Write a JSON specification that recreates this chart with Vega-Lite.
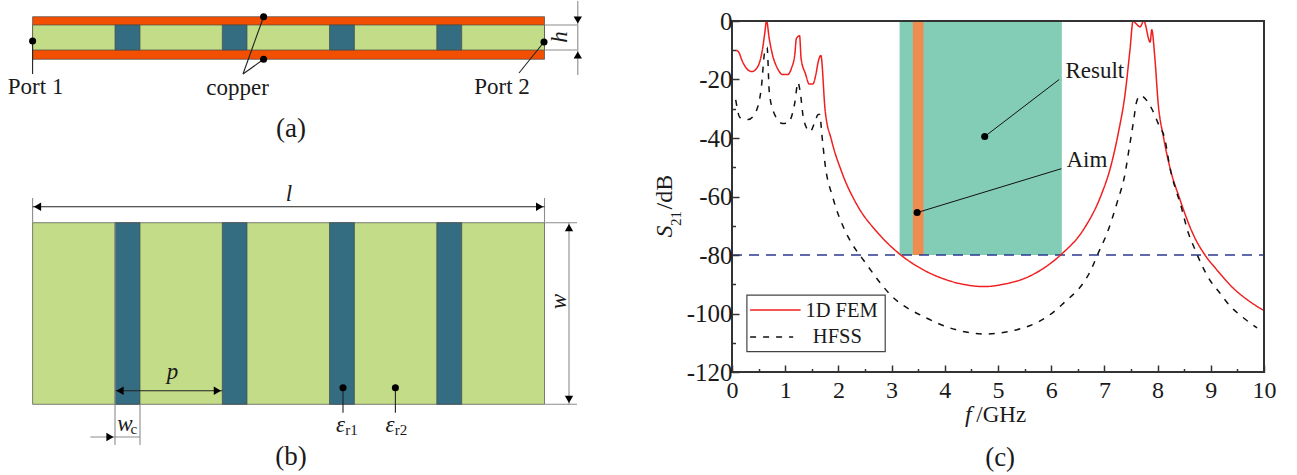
{
"$schema":"https://vega.github.io/schema/vega-lite/v6.json",
"padding":0,
"background":"white",
"bounds":"flush",
"spacing":132,
"config":{"font":"Liberation Serif","text":{"font":"Liberation Serif","color":"#1a1a1a"},"concat":{"spacing":132}},
"datasets":{
"rects":[
{"part":"copper","x":32.6,"x2":544.5,"y":16.7,"y2":59.3},
{"part":"substrate","x":32.6,"x2":544.5,"y":25,"y2":50},
{"part":"column","x":115,"x2":140,"y":25,"y2":50},
{"part":"column","x":222.3,"x2":247,"y":25,"y2":50},
{"part":"column","x":329.5,"x2":354.4,"y":25,"y2":50},
{"part":"column","x":436.8,"x2":461.7,"y":25,"y2":50},
{"part":"substrate","x":32.6,"x2":544.5,"y":222.7,"y2":404.3},
{"part":"column","x":115,"x2":140,"y":222.7,"y2":404.3},
{"part":"column","x":222.3,"x2":247,"y":222.7,"y2":404.3},
{"part":"column","x":329.5,"x2":354.4,"y":222.7,"y2":404.3},
{"part":"column","x":436.8,"x2":461.7,"y":222.7,"y2":404.3}
],
"lines":[
{"part":"leader","x":32.6,"x2":32.6,"y":41,"y2":74},
{"part":"leader","x":544,"x2":519,"y":42,"y2":73},
{"part":"leader","x":263.6,"x2":243,"y":16.7,"y2":74},
{"part":"leader","x":263.6,"x2":243,"y":59.3,"y2":74},
{"part":"guide","x":544.5,"x2":577,"y":25,"y2":25},
{"part":"guide","x":544.5,"x2":577,"y":50,"y2":50},
{"part":"guide","x":577.8,"x2":577.8,"y":1,"y2":75},
{"part":"guide","x":32.6,"x2":32.6,"y":198,"y2":222.7},
{"part":"guide","x":544.5,"x2":544.5,"y":198,"y2":222.7},
{"part":"leader","x":32.6,"x2":544.5,"y":206.7,"y2":206.7},
{"part":"guide","x":544.5,"x2":577,"y":222.7,"y2":222.7},
{"part":"guide","x":544.5,"x2":577,"y":404.3,"y2":404.3},
{"part":"guide","x":569,"x2":569,"y":222.7,"y2":404.3},
{"part":"leader","x":115,"x2":222.3,"y":390.7,"y2":390.7},
{"part":"guide","x":115,"x2":115,"y":222.7,"y2":445},
{"part":"guide","x":140,"x2":140,"y":404.3,"y2":445},
{"part":"guide","x":90.4,"x2":140,"y":437,"y2":437},
{"part":"leader","x":343,"x2":343,"y":387.7,"y2":412.7},
{"part":"leader","x":395.4,"x2":395.4,"y":387.7,"y2":412.7}
],
"dots":[
{"x":32.6,"y":41},{"x":544,"y":42},{"x":263.6,"y":16.7},{"x":263.6,"y":59.3},{"x":343,"y":387.7},{"x":395.4,"y":387.7}
],
"arrows":[
{"dir":"down","x":577.8,"y":20},{"dir":"up","x":577.8,"y":55},
{"dir":"left","x":37.5,"y":206.7},{"dir":"right","x":539.6,"y":206.7},
{"dir":"down","x":569,"y":399.4},{"dir":"up","x":569,"y":227.6},
{"dir":"left","x":120,"y":390.7},{"dir":"right","x":217.4,"y":390.7},
{"dir":"right","x":110,"y":437}
],
"roman":[
{"label":"Port 1","x":35.6,"y":87},{"label":"copper","x":237.5,"y":88},{"label":"Port 2","x":502,"y":87}
],
"captions":[
{"label":"(a)","x":291,"y":129},{"label":"(b)","x":291,"y":456.7}
],
"italic":[
{"label":"l","x":289,"y":194,"angle":0},{"label":"p","x":172.4,"y":371.7,"angle":0},
{"label":"h","x":560,"y":37,"angle":270},{"label":"w","x":559.4,"y":301.7,"angle":270},
{"label":"w","x":125,"y":424,"angle":0},{"label":"ε","x":340.5,"y":425,"angle":0},{"label":"ε","x":390,"y":425,"angle":0}
],
"subs":[
{"label":"c","x":133.8,"y":429},{"label":"r1","x":351.5,"y":430},{"label":"r2","x":401,"y":430}
],
"spectrum":[
{"series":"1D FEM","f":0.07,"db":-10},{"series":"1D FEM","f":0.12,"db":-10.5},{"series":"1D FEM","f":0.2,"db":-14},{"series":"1D FEM","f":0.3,"db":-16.7},{"series":"1D FEM","f":0.37,"db":-17.3},{"series":"1D FEM","f":0.45,"db":-16.5},{"series":"1D FEM","f":0.52,"db":-14},{"series":"1D FEM","f":0.57,"db":-10},{"series":"1D FEM","f":0.61,"db":-5},{"series":"1D FEM","f":0.65,"db":0},{"series":"1D FEM","f":0.7,"db":-6},{"series":"1D FEM","f":0.76,"db":-11.5},{"series":"1D FEM","f":0.85,"db":-16},{"series":"1D FEM","f":0.95,"db":-18.3},{"series":"1D FEM","f":1.05,"db":-18.3},{"series":"1D FEM","f":1.12,"db":-16},{"series":"1D FEM","f":1.18,"db":-11.5},{"series":"1D FEM","f":1.21,"db":-6},{"series":"1D FEM","f":1.27,"db":-5},{"series":"1D FEM","f":1.3,"db":-13},{"series":"1D FEM","f":1.38,"db":-18},{"series":"1D FEM","f":1.45,"db":-21.5},{"series":"1D FEM","f":1.52,"db":-21.5},{"series":"1D FEM","f":1.58,"db":-18},{"series":"1D FEM","f":1.62,"db":-14},{"series":"1D FEM","f":1.67,"db":-11.8},{"series":"1D FEM","f":1.75,"db":-30.4},{"series":"1D FEM","f":1.87,"db":-40.7},{"series":"1D FEM","f":2.06,"db":-51.5},{"series":"1D FEM","f":2.37,"db":-63.5},{"series":"1D FEM","f":2.72,"db":-72},{"series":"1D FEM","f":3.16,"db":-79.8},{"series":"1D FEM","f":3.57,"db":-84.8},{"series":"1D FEM","f":4,"db":-88.3},{"series":"1D FEM","f":4.4,"db":-90.2},{"series":"1D FEM","f":4.75,"db":-90.8},{"series":"1D FEM","f":5.1,"db":-90},{"series":"1D FEM","f":5.5,"db":-88},{"series":"1D FEM","f":5.9,"db":-84},{"series":"1D FEM","f":6.2,"db":-79.6},{"series":"1D FEM","f":6.6,"db":-71.5},{"series":"1D FEM","f":6.95,"db":-59},{"series":"1D FEM","f":7.1,"db":-51},{"series":"1D FEM","f":7.26,"db":-38.4},{"series":"1D FEM","f":7.39,"db":-24.8},{"series":"1D FEM","f":7.48,"db":-10},{"series":"1D FEM","f":7.54,"db":0},{"series":"1D FEM","f":7.6,"db":-1},{"series":"1D FEM","f":7.67,"db":-2},{"series":"1D FEM","f":7.74,"db":0},{"series":"1D FEM","f":7.86,"db":-7.2},{"series":"1D FEM","f":7.89,"db":-3},{"series":"1D FEM","f":7.95,"db":-13},{"series":"1D FEM","f":8.01,"db":-28},{"series":"1D FEM","f":8.11,"db":-39.6},{"series":"1D FEM","f":8.23,"db":-50},{"series":"1D FEM","f":8.42,"db":-61},{"series":"1D FEM","f":8.67,"db":-73},{"series":"1D FEM","f":8.89,"db":-80},{"series":"1D FEM","f":9.11,"db":-85},{"series":"1D FEM","f":9.42,"db":-91.3},{"series":"1D FEM","f":9.74,"db":-96},{"series":"1D FEM","f":10,"db":-99},
{"series":"HFSS","f":0.07,"db":-27},{"series":"HFSS","f":0.15,"db":-33},{"series":"HFSS","f":0.3,"db":-33.7},{"series":"HFSS","f":0.45,"db":-31},{"series":"HFSS","f":0.55,"db":-23},{"series":"HFSS","f":0.62,"db":-10},{"series":"HFSS","f":0.66,"db":-9},{"series":"HFSS","f":0.7,"db":-24},{"series":"HFSS","f":0.78,"db":-31},{"series":"HFSS","f":0.95,"db":-35},{"series":"HFSS","f":1.05,"db":-34.8},{"series":"HFSS","f":1.18,"db":-28},{"series":"HFSS","f":1.24,"db":-21},{"series":"HFSS","f":1.28,"db":-24},{"series":"HFSS","f":1.35,"db":-34},{"series":"HFSS","f":1.47,"db":-37.8},{"series":"HFSS","f":1.56,"db":-34.4},{"series":"HFSS","f":1.62,"db":-32},{"series":"HFSS","f":1.65,"db":-32},{"series":"HFSS","f":1.69,"db":-39},{"series":"HFSS","f":1.75,"db":-49},{"series":"HFSS","f":1.9,"db":-60.6},{"series":"HFSS","f":2.12,"db":-71.5},{"series":"HFSS","f":2.25,"db":-76},{"series":"HFSS","f":2.47,"db":-81.7},{"series":"HFSS","f":3,"db":-94},{"series":"HFSS","f":3.65,"db":-101.5},{"series":"HFSS","f":4.2,"db":-105.5},{"series":"HFSS","f":4.75,"db":-107},{"series":"HFSS","f":5.62,"db":-104},{"series":"HFSS","f":6.2,"db":-97},{"series":"HFSS","f":6.76,"db":-84.6},{"series":"HFSS","f":6.88,"db":-79.5},{"series":"HFSS","f":7.04,"db":-73},{"series":"HFSS","f":7.24,"db":-62},{"series":"HFSS","f":7.39,"db":-52},{"series":"HFSS","f":7.47,"db":-43},{"series":"HFSS","f":7.55,"db":-34},{"series":"HFSS","f":7.6,"db":-28},{"series":"HFSS","f":7.67,"db":-25.5},{"series":"HFSS","f":7.89,"db":-30},{"series":"HFSS","f":8.01,"db":-35},{"series":"HFSS","f":8.14,"db":-40.7},{"series":"HFSS","f":8.23,"db":-50},{"series":"HFSS","f":8.33,"db":-57},{"series":"HFSS","f":8.42,"db":-62},{"series":"HFSS","f":8.58,"db":-72.6},{"series":"HFSS","f":8.7,"db":-78},{"series":"HFSS","f":8.83,"db":-83.4},{"series":"HFSS","f":8.98,"db":-88.5},{"series":"HFSS","f":9.17,"db":-93},{"series":"HFSS","f":9.36,"db":-97.4},{"series":"HFSS","f":9.58,"db":-101},{"series":"HFSS","f":9.87,"db":-104.9}
],
"bands":[
{"part":"Result","f":3.15,"f2":6.2,"db":0,"db2":-80},
{"part":"Aim","f":3.4,"f2":3.6,"db":0,"db2":-80}
],
"threshold":[{"f":0,"f2":10,"db":-80,"db2":-80}],
"frame":[{"f":0,"f2":10,"db":-120,"db2":0}],
"leaders":[
{"f":4.75,"f2":6.15,"db":-39.5,"db2":-20},
{"f":3.48,"f2":6.19,"db":-65.5,"db2":-50.5}
],
"markers":[{"f":4.75,"db":-39.5},{"f":3.48,"db":-65.5}],
"legendbox":[{"f":0.28,"f2":2.88,"db":-93.7,"db2":-113}],
"legendlines":[
{"series":"1D FEM","f":0.34,"f2":1.29,"db":-98.8,"db2":-98.8},
{"series":"HFSS","f":0.34,"f2":1.15,"db":-108,"db2":-108}
],
"notes":[
{"label":"Result","f":6.82,"db":-17},
{"label":"Aim","f":6.67,"db":-47.5},
{"label":"/GHz","f":5.06,"db":-134.7}
],
"legendText":[
{"label":"1D FEM","f":2.06,"db":-99},
{"label":"HFSS","f":1.98,"db":-108}
],
"captionC":[{"label":"(c)","f":5.04,"db":-149.4}],
"chartItalic":[{"label":"f","f":4.44,"db":-134.7,"angle":0},{"label":"S","f":-1.26,"db":-72,"angle":270}],
"yTitleRoman":[{"label":"/dB","f":-1.26,"db":-58.5}],
"yTitleSub":[{"label":"21","f":-1.06,"db":-67.5}]
},
"hconcat":[
{
"width":600,"height":454,
"view":{"stroke":null},
"encoding":{
"x":{"field":"x","type":"quantitative","axis":null,"scale":{"domain":[0,600],"nice":false,"zero":false}},
"y":{"field":"y","type":"quantitative","axis":null,"scale":{"domain":[475,21],"nice":false,"zero":false}}
},
"layer":[
{"data":{"name":"rects"},"mark":{"type":"rect","stroke":"#4a4a4a","strokeWidth":0.7},
"encoding":{"x2":{"field":"x2"},"y2":{"field":"y2"},
"fill":{"field":"part","type":"nominal","legend":null,"scale":{"domain":["copper","substrate","column","Result","Aim"],"range":["#F25000","#C3DC87","#346C82","#83CDB7","#EF8C50"]}}}},
{"data":{"name":"lines"},"mark":{"type":"rule","strokeWidth":1.1},
"encoding":{"x2":{"field":"x2"},"y2":{"field":"y2"},
"stroke":{"field":"part","type":"nominal","legend":null,"scale":{"domain":["leader","guide","1D FEM","HFSS"],"range":["#222222","#8c8c8c","#F01E1E","#111111"]}}}},
{"data":{"name":"dots"},"mark":{"type":"point","filled":true,"color":"#000000","size":50,"opacity":1}},
{"data":{"name":"arrows"},"mark":{"type":"point","filled":true,"color":"#000000","size":70,"opacity":1},
"encoding":{"shape":{"field":"dir","type":"nominal","legend":null,"scale":{"domain":["up","down","left","right"],"range":["triangle-up","triangle-down","triangle-left","triangle-right"]}}}},
{"data":{"name":"roman"},"mark":{"type":"text","fontSize":23,"align":"center","baseline":"middle"},"encoding":{"text":{"field":"label"}}},
{"data":{"name":"captions"},"mark":{"type":"text","fontSize":27,"align":"center","baseline":"middle"},"encoding":{"text":{"field":"label"}}},
{"data":{"name":"italic"},"mark":{"type":"text","fontSize":23,"fontStyle":"italic","align":"center","baseline":"middle"},"encoding":{"text":{"field":"label"},"angle":{"field":"angle","type":"quantitative","scale":null}}},
{"data":{"name":"subs"},"mark":{"type":"text","fontSize":15,"align":"center","baseline":"middle"},"encoding":{"text":{"field":"label"}}}
]
},
{
"width":532,"height":351,
"view":{"stroke":null},
"encoding":{
"x":{"field":"f","type":"quantitative","scale":{"domain":[0,10],"nice":false,"zero":false},
"axis":{"title":null,"domain":false,"grid":false,"values":[0,0.5,1,1.5,2,2.5,3,3.5,4,4.5,5,5.5,6,6.5,7,7.5,8,8.5,9,9.5,10],"labelExpr":"datum.value % 1 == 0 ? '' + datum.value : ''","labelFont":"Liberation Serif","labelFontSize":24,"labelColor":"#1a1a1a","labelPadding":13,"labelFlush":false,"labelOverlap":false,"tickColor":"#333333","tickWidth":1.5,"tickSize":{"condition":{"test":"datum.value % 1 != 0","value":-3.5},"value":-7},"zindex":1}},
"y":{"field":"db","type":"quantitative","scale":{"domain":[-120,0],"nice":false,"zero":false},
"axis":{"title":null,"domain":false,"grid":false,"values":[-120,-110,-100,-90,-80,-70,-60,-50,-40,-30,-20,-10,0],"labelExpr":"datum.value % 20 == 0 ? '' + datum.value : ''","labelFont":"Liberation Serif","labelFontSize":25,"labelColor":"#1a1a1a","labelPadding":7,"labelFlush":false,"labelOverlap":false,"tickColor":"#333333","tickWidth":1.5,"tickSize":{"condition":{"test":"datum.value % 20 != 0","value":-3.5},"value":-7},"zindex":1}}
},
"layer":[
{"data":{"name":"bands"},"mark":{"type":"rect"},
"encoding":{"x2":{"field":"f2"},"y2":{"field":"db2"},
"fill":{"field":"part","type":"nominal","legend":null}}},
{"data":{"name":"threshold"},"mark":{"type":"rule","stroke":"#2B3990","strokeWidth":1.4,"strokeDash":[10,7]},
"encoding":{"x2":{"field":"f2"}}},
{"data":{"name":"spectrum"},"mark":{"type":"line","strokeWidth":1.5,"interpolate":"monotone"},
"encoding":{
"stroke":{"field":"series","type":"nominal","legend":null},
"strokeDash":{"field":"series","type":"nominal","legend":null,"scale":{"domain":["1D FEM","HFSS"],"range":[[1,0],[6,7]]}}}},
{"data":{"name":"frame"},"mark":{"type":"rect","filled":false,"stroke":"#333333","strokeWidth":2},
"encoding":{"x2":{"field":"f2"},"y2":{"field":"db2"}}},
{"data":{"name":"leaders"},"mark":{"type":"rule","stroke":"#111111","strokeWidth":1},
"encoding":{"x2":{"field":"f2"},"y2":{"field":"db2"}}},
{"data":{"name":"markers"},"mark":{"type":"point","filled":true,"color":"#000000","size":50,"opacity":1}},
{"data":{"name":"legendbox"},"mark":{"type":"rect","fill":"#ffffff","stroke":"#444444","strokeWidth":1.2},
"encoding":{"x2":{"field":"f2"},"y2":{"field":"db2"}}},
{"data":{"name":"legendlines"},"mark":{"type":"rule","strokeWidth":1.5},
"encoding":{"x2":{"field":"f2"},
"stroke":{"field":"series","type":"nominal","legend":null},
"strokeDash":{"field":"series","type":"nominal","legend":null}}},
{"data":{"name":"notes"},"mark":{"type":"text","fontSize":23,"align":"center","baseline":"middle"},"encoding":{"text":{"field":"label"}}},
{"data":{"name":"legendText"},"mark":{"type":"text","fontSize":20.5,"align":"center","baseline":"middle"},"encoding":{"text":{"field":"label"}}},
{"data":{"name":"captionC"},"mark":{"type":"text","fontSize":27,"align":"center","baseline":"middle"},"encoding":{"text":{"field":"label"}}},
{"data":{"name":"chartItalic"},"mark":{"type":"text","fontSize":24,"fontStyle":"italic","align":"center","baseline":"middle"},"encoding":{"text":{"field":"label"},"angle":{"field":"angle","type":"quantitative","scale":null}}},
{"data":{"name":"yTitleRoman"},"mark":{"type":"text","fontSize":24,"angle":270,"align":"center","baseline":"middle"},"encoding":{"text":{"field":"label"}}},
{"data":{"name":"yTitleSub"},"mark":{"type":"text","fontSize":15,"angle":270,"align":"center","baseline":"middle"},"encoding":{"text":{"field":"label"}}}
]
}
]
}
